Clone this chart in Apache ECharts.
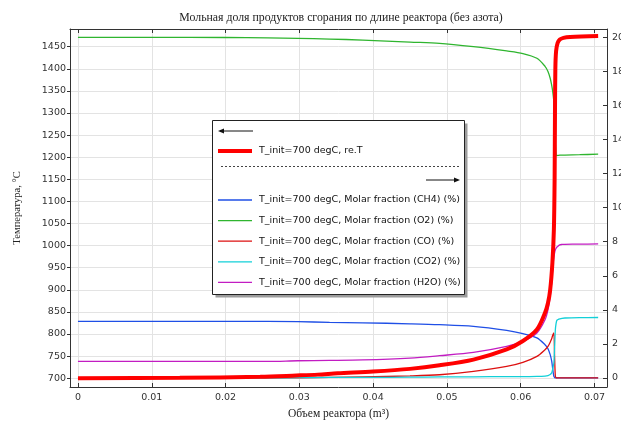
<!DOCTYPE html>
<html>
<head>
<meta charset="utf-8">
<script src="https://cdn.jsdelivr.net/npm/echarts@6/dist/echarts.min.js"></script>
<style>
  html, body { margin: 0; padding: 0; background: #fff; }
  #chart { width: 621px; height: 422px; }
</style>
</head>
<body>
<div id="chart"></div>
<script>
// температура (левая ось)
const volT = [0, 0.0138, 0.0247, 0.0296, 0.0325, 0.0352, 0.04, 0.045, 0.049, 0.0536, 0.0581, 0.0603, 0.0622, 0.0633, 0.0637, 0.064, 0.0643, 0.0645, 0.0646, 0.06465, 0.0647, 0.0648, 0.065, 0.0653, 0.0658, 0.0667, 0.0705]
const tempC = [700, 701, 703, 706, 708, 711, 715, 721, 729, 742, 765, 784, 810, 848, 870, 900, 961, 1036, 1150, 1300, 1400, 1440, 1458, 1466, 1470, 1472, 1474]

// мольные доли (правая ось), общая сетка по объему
const volGas = [0, 0.01, 0.02, 0.0257, 0.0298, 0.0341, 0.0386, 0.045, 0.049, 0.0536, 0.0581, 0.0603, 0.0622, 0.0633, 0.0637, 0.064, 0.0642, 0.0643, 0.0644, 0.0645, 0.0646, 0.0647, 0.0648, 0.0649, 0.0651, 0.0653, 0.0656, 0.066, 0.068, 0.0705]
const ch4 = [3.32, 3.32, 3.32, 3.32, 3.31, 3.26, 3.24, 3.18, 3.13, 3.03, 2.79, 2.6, 2.35, 1.95, 1.72, 1.37, 1.0, 0.68, 0.35, 0.09, 0.03, 0, 0, 0, 0, 0, 0, 0, 0, 0]
const o2 = [20.0, 20.0, 19.99, 19.97, 19.94, 19.9, 19.84, 19.72, 19.65, 19.45, 19.2, 19.05, 18.77, 18.3, 18.0, 17.6, 17.2, 16.95, 16.62, 16.2, 15.2, 13.8, 13.1, 13.06, 13.07, 13.08, 13.08, 13.09, 13.11, 13.14]
const co = [0, 0, 0, 0, 0.01, 0.03, 0.06, 0.12, 0.19, 0.39, 0.68, 0.92, 1.27, 1.66, 1.85, 2.1, 2.3, 2.45, 2.57, 2.64, 1.2, 0.1, 0.02, 0, 0, 0, 0, 0, 0, 0]
const co2 = [0, 0, 0, 0, 0.02, 0.03, 0.03, 0.05, 0.06, 0.07, 0.08, 0.08, 0.09, 0.11, 0.14, 0.2, 0.3, 0.45, 0.65, 0.88, 1.8, 2.83, 3.2, 3.38, 3.44, 3.47, 3.5, 3.52, 3.54, 3.55]
const h2o = [0.97, 0.97, 0.97, 0.97, 1.01, 1.03, 1.06, 1.17, 1.31, 1.5, 1.85, 2.15, 2.64, 3.42, 4.0, 4.79, 5.6, 6.2, 6.74, 7.1, 7.35, 7.52, 7.62, 7.68, 7.75, 7.82, 7.84, 7.85, 7.86, 7.87]

// подписи осей
const xTicks = [0, 0.01, 0.02, 0.03, 0.04, 0.05, 0.06, 0.07]
const tempTicks = [700, 750, 800, 850, 900, 950, 1000, 1050, 1100, 1150, 1200, 1250, 1300, 1350, 1400, 1450]
const fracTicks = [0, 2, 4, 6, 8, 10, 12, 14, 16, 18, 20]

const tName = 'T_init=700 degC, re.T'
const gasSeries = [
  { name: 'T_init=700 degC, Molar fraction (CH4) (%)', data: ch4, color: '#1f4fe6' },
  { name: 'T_init=700 degC, Molar fraction (O2) (%)', data: o2, color: '#2fb52f' },
  { name: 'T_init=700 degC, Molar fraction (CO) (%)', data: co, color: '#dd1010' },
  { name: 'T_init=700 degC, Molar fraction (CO2) (%)', data: co2, color: '#12d0d8' },
  { name: 'T_init=700 degC, Molar fraction (H2O) (%)', data: h2o, color: '#c21cc2' }
]

const pairs = (xs, ys) => xs.map((x, i) => [x, ys[i]])
const axisColor = '#333'
const gridColor = '#e3e3e3'
const tickFont = { fontFamily: 'DejaVu Sans', fontSize: 9.5, color: '#333' }
const legendFont = { fontFamily: 'DejaVu Sans', fontSize: 9.5, color: '#111', padding: [0, 0, 0, 2] }

const chart = echarts.init(document.getElementById('chart'))

const series = [{
  name: tName,
  type: 'line',
  xAxisIndex: 0,
  yAxisIndex: 0,
  data: pairs(volT, tempC),
  symbol: 'none',
  smooth: 0.3,
  lineStyle: { width: 4, color: '#ff0000' },
  itemStyle: { color: '#ff0000' },
  z: 5
}]
gasSeries.forEach(s => {
  series.push({
    name: s.name,
    type: 'line',
    xAxisIndex: 0,
    yAxisIndex: 1,
    data: pairs(volGas, s.data),
    symbol: 'none',
    smooth: 0.3,
    lineStyle: { width: 1.3, color: s.color },
    itemStyle: { color: s.color },
    z: 3
  })
})

const option = {
  animation: false,
  title: {
    text: 'Мольная доля продуктов сгорания по длине реактора (без азота)',
    left: 336,
    top: 7,
    textAlign: 'center',
    textStyle: { fontFamily: 'Liberation Serif', fontSize: 11.8, fontWeight: 'normal', color: '#222' }
  },
  grid: { left: 70, right: 14, top: 29, bottom: 35, containLabel: false, outerBoundsMode: 'none' },
  xAxis: [
    {
      type: 'value',
      min: -0.00108,
      max: 0.0717,
      name: 'Объем реактора (m³)',
      nameLocation: 'middle',
      nameGap: 19,
      nameTextStyle: { fontFamily: 'Liberation Serif', fontSize: 11.5, color: '#222' },
      axisLine: { show: true, onZero: false, lineStyle: { color: axisColor } },
      axisTick: { show: true, inside: true, length: 4, customValues: xTicks, lineStyle: { color: axisColor } },
      axisLabel: {
        customValues: xTicks,
        margin: 6,
        ...tickFont,
        formatter: v => v === 0 ? '0' : String(+v.toFixed(2))
      },
      splitLine: { show: true, lineStyle: { color: gridColor } }
    },
    {
      type: 'value',
      position: 'top',
      min: -0.00108,
      max: 0.0717,
      axisLine: { show: true, onZero: false, lineStyle: { color: axisColor } },
      axisTick: { show: true, inside: true, length: 4, customValues: xTicks, lineStyle: { color: axisColor } },
      axisLabel: { show: false },
      splitLine: { show: false }
    }
  ],
  yAxis: [
    {
      type: 'value',
      position: 'left',
      min: 680,
      max: 1490,
      name: 'Температура, °C',
      nameLocation: 'middle',
      nameGap: 47,
      nameRotate: 90,
      nameTextStyle: { fontFamily: 'Liberation Serif', fontSize: 10.5, color: '#222' },
      axisLine: { show: true, onZero: false, lineStyle: { color: axisColor } },
      axisTick: { show: true, inside: false, length: 3, customValues: tempTicks, lineStyle: { color: axisColor } },
      axisLabel: { customValues: tempTicks, margin: 4, ...tickFont, formatter: v => String(v) },
      splitLine: { show: true, lineStyle: { color: gridColor } }
    },
    {
      type: 'value',
      position: 'right',
      min: -0.53,
      max: 20.49,
      axisLine: { show: true, onZero: false, lineStyle: { color: axisColor } },
      axisTick: { show: true, inside: true, length: 4, customValues: fracTicks, lineStyle: { color: axisColor } },
      axisLabel: { customValues: fracTicks, margin: 5, ...tickFont, formatter: v => String(v) },
      splitLine: { show: false }
    }
  ],
  legend: [
    {
      data: [{ name: tName, icon: 'path://M0 0H34V4H0Z' }],
      left: 218,
      top: 146,
      itemWidth: 34,
      itemHeight: 12,
      padding: 0,
      selectedMode: false,
      z: 20,
      textStyle: legendFont
    },
    {
      data: gasSeries.map(s => ({ name: s.name, icon: 'path://M0 0H34V1.3H0Z' })),
      orient: 'vertical',
      left: 218,
      top: 195,
      itemWidth: 34,
      itemHeight: 12,
      itemGap: 10.6,
      padding: 0,
      selectedMode: false,
      z: 20,
      textStyle: legendFont
    }
  ],
  graphic: [
    // рамка легенды с тенью
    { type: 'rect', z: 15, shape: { x: 215.5, y: 123.5, width: 252, height: 174 }, style: { fill: '#9c9c9c' } },
    { type: 'rect', z: 16, shape: { x: 212.5, y: 120.5, width: 252, height: 174 }, style: { fill: '#fff', stroke: '#222', lineWidth: 1 } },
    // стрелка левой оси
    { type: 'line', z: 17, shape: { x1: 220, y1: 131, x2: 253, y2: 131 }, style: { stroke: '#111', lineWidth: 1 } },
    { type: 'polygon', z: 17, shape: { points: [[218, 131], [224, 128.5], [224, 133.5]] }, style: { fill: '#111' } },
    // разделитель
    { type: 'line', z: 17, shape: { x1: 221, y1: 166.5, x2: 460, y2: 166.5 }, style: { stroke: '#444', lineWidth: 1, lineDash: [2, 2] } },
    // стрелка правой оси
    { type: 'line', z: 17, shape: { x1: 426, y1: 180, x2: 458, y2: 180 }, style: { stroke: '#111', lineWidth: 1 } },
    { type: 'polygon', z: 17, shape: { points: [[460, 180], [454, 177.5], [454, 182.5]] }, style: { fill: '#111' } }
  ],
  series: series
}

chart.setOption(option)
</script>
</body>
</html>
